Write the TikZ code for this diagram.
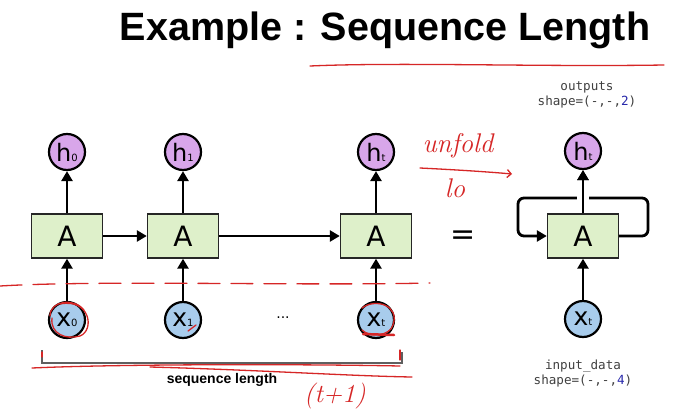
\documentclass[tikz,border=0pt]{standalone}
\usepackage{fontspec}
\newfontfamily\dvs{DejaVu Sans}
\newfontfamily\lib{Liberation Sans}
\newfontfamily\mono{DejaVu Sans Mono}
\usetikzlibrary{arrows.meta}
\definecolor{hfill}{RGB}{216,166,234}
\definecolor{afill}{RGB}{222,240,202}
\definecolor{xfill}{RGB}{168,204,236}
\definecolor{pen}{RGB}{214,38,38}
\definecolor{numblue}{RGB}{40,40,170}
\definecolor{brk}{RGB}{95,95,95}
\tikzset{
  hcirc/.style={circle, draw, line width=2.2pt, fill=hfill, minimum size=36pt, inner sep=0pt, font=\dvs},
  xcirc/.style={circle, draw, line width=2.2pt, fill=xfill, minimum size=36pt, inner sep=0pt, font=\dvs},
  abox/.style={draw=black!85, line width=1.4pt, fill=afill, minimum width=71pt, minimum height=44pt, inner sep=0pt, font=\dvs\fontsize{28}{28}\selectfont},
  arr/.style={-{Triangle[length=10pt,width=11pt]}, line width=2.8pt},
  redline/.style={pen, line width=1.3pt, line cap=round},
  hand/.style={pen, font=\rmfamily\itshape},
  monotxt/.style={font=\mono\fontsize{12.6}{15}\selectfont, text=black!75, align=center},
}
\newcommand{\hlab}[1]{{\fontsize{24}{24}\selectfont h}{\fontsize{10}{10}\selectfont #1}}
\newcommand{\xlab}[1]{{\fontsize{25}{25}\selectfont x}{\fontsize{10}{10}\selectfont #1}}
\begin{document}
\begin{tikzpicture}[x=1pt,y=-1pt]
\useasboundingbox (0,0) rectangle (674,417);
\fill[white] (0,0) rectangle (674,417);
% title
\node[anchor=base, font=\lib\bfseries\fontsize{39.5}{39.5}\selectfont, inner sep=0pt] (title) at (385,41) {Example : Sequence Length};
% boxes
\node[abox] (A0) at (67,236) {A};
\node[abox] (A1) at (183,236) {A};
\node[abox] (A2) at (376,236) {A};
\node[abox] (Ar) at (583,236) {A};
% outputs
\node[hcirc] (h0) at (67,152) {\hlab{0}};
\node[hcirc] (h1) at (183,152) {\hlab{1}};
\node[hcirc] (h2) at (376,152) {\hlab{t}};
\node[hcirc] (hr) at (583,151) {\hlab{t}};
% inputs
\node[xcirc] (x0) at (67,320) {\xlab{0}};
\node[xcirc] (x1) at (183,320) {\xlab{1}};
\node[xcirc] (x2) at (376,320) {\xlab{t}};
\node[xcirc] (xr) at (583,319) {\xlab{t}};
\node[font=\dvs\fontsize{14}{14}\selectfont] (dots) at (283,318) {...};
% arrows
\foreach \i in {0,1,2,r}{
  \draw[arr] (A\i.north) -- (h\i.south);
  \draw[arr] (x\i.north) -- (A\i.south);
}
\draw[arr] (A0.east) -- (A1.west);
\draw[arr] (A1.east) -- (A2.west);
% loop
\coordinate (lr) at (648,198);
\coordinate (ll) at (518,236);
\draw[arr, rounded corners=6pt] (Ar.east) -| (lr) -| (ll) -- (Ar.west);
\fill[white] (577,193) rectangle (589,203);
\draw[arr] (Ar.north) -- (hr.south);
% equals
\node[font=\dvs\fontsize{30}{30}\selectfont] (eq) at (463,238) {=};
% mono labels
\node[monotxt] (outl) at (587,95) {outputs\\shape=(-,-,\textcolor{numblue}{2})};
\node[monotxt] (inl) at (583,374) {input\_data\\shape=(-,-,\textcolor{numblue}{4})};
% bracket
\coordinate (bl) at (42,350);
\coordinate (br) at (402,352);
\draw[brk, line width=1.5pt] (bl) |- (402,363) -- (br);
\node[font=\lib\bfseries\fontsize{14}{14}\selectfont] (seq) at (222,380) {sequence length};
% red annotations
\draw[redline] (310,66) .. controls (400,62) and (540,67) .. (664,65);
\draw[redline, dash pattern=on 22pt off 11pt] (0,286) .. controls (100,280) and (300,286) .. (430,283);
\draw[redline] (32,368) .. controls (120,364) and (300,364) .. (400,366);
\draw[redline] (150,367) .. controls (260,370) and (350,376) .. (412,377);
\draw[redline] (42,352) -- (42,357);
\draw[redline] (400,350) -- (400,360);
\draw[redline] (60,304) .. controls (90,298) and (95,330) .. (80,336) .. controls (66,340) and (50,334) .. (52,318);
\draw[redline] (50,316) .. controls (50,300) and (75,298) .. (84,310);
\draw[redline] (188,331) -- (196,325);
\draw[redline] (362,308) .. controls (375,298) and (400,305) .. (393,325) .. controls (390,336) and (370,338) .. (362,330);
\draw[pen, line width=2.5pt, line cap=round] (363,334) -- (394,335);
\node[hand, font=\rmfamily\itshape\fontsize{26}{26}\selectfont] (tp1) at (335,396) {(t+1)};
\node[hand, font=\rmfamily\itshape\fontsize{27}{27}\selectfont] (unf) at (458,146) {unfold};
\draw[redline, -{Straight Barb[length=4pt]}] (420,168) .. controls (460,170) and (490,172) .. (512,174);
\node[hand, font=\rmfamily\itshape\fontsize{27}{27}\selectfont] (lo) at (455,188) {lo};
\end{tikzpicture}
\end{document}
